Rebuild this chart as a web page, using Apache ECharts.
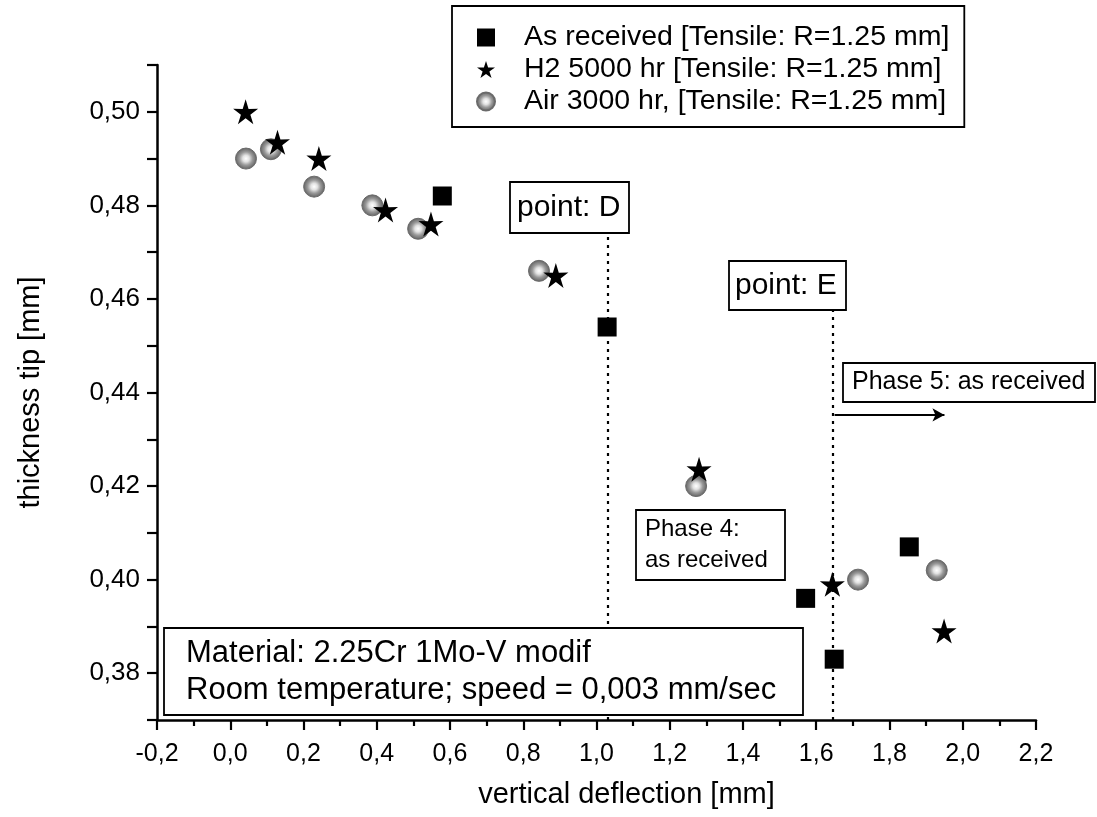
<!DOCTYPE html>
<html>
<head>
<meta charset="utf-8">
<script src="https://cdn.jsdelivr.net/npm/echarts@6/dist/echarts.min.js"></script>
<style>
  html, body { margin: 0; padding: 0; background: #fff; }
  #chart { width: 1097px; height: 817px; }
</style>
</head>
<body>
<div id="chart"></div>
<script>
// Series values: vertical deflection [mm] vs thickness tip [mm]
var asReceivedX = [0.579, 1.029, 1.571, 1.649, 1.854];
var asReceivedY = [0.482, 0.454, 0.396, 0.383, 0.407];

var h2X = [0.042, 0.129, 0.242, 0.424, 0.548, 0.889, 1.280, 1.644, 1.949];
var h2Y = [0.500, 0.4935, 0.490, 0.479, 0.476, 0.465, 0.4236, 0.399, 0.389];

var airX = [0.043, 0.111, 0.229, 0.388, 0.513, 0.843, 1.272, 1.714, 1.929];
var airY = [0.490, 0.492, 0.484, 0.480, 0.475, 0.466, 0.420, 0.400, 0.402];

var seriesNames = [
  'As received [Tensile: R=1.25 mm]',
  'H2 5000 hr [Tensile: R=1.25 mm]',
  'Air 3000 hr, [Tensile: R=1.25 mm]'
];

// Reference markers: point D, point E, and the phase 5 arrow
var pointDX = 1.032, pointDTop = 0.4741;
var pointEX = 1.645, pointETop = 0.4576;
var phase5ArrowX = [1.650, 1.950], phase5ArrowY = 0.4352;

// Axis ranges; y ticks every 0.01, labelled every 0.02
var xMin = -0.2, xMax = 2.2, xStep = 0.2;
var yMin = 0.37, yMax = 0.51, yStep = 0.01;

function zip(xs, ys) { return xs.map(function (x, i) { return [x, ys[i]]; }); }
function comma(v, d) { return v.toFixed(d).replace('.', ','); }

var FONT = 'Liberation Sans, Arial, sans-serif';
var STAR = 'path://M50,0 L61.2,35.3 L97.6,34.5 L68,56 L79.4,90.5 L50,69 L20.6,90.5 L32,56 L2.4,34.5 L38.8,35.3 Z';

var greyDot = {
  type: 'radial', x: 0.5, y: 0.5, r: 0.5,
  colorStops: [
    { offset: 0, color: '#ffffff' },
    { offset: 0.3, color: '#e2e2e2' },
    { offset: 0.6, color: '#9a9a9a' },
    { offset: 1, color: '#5e5e5e' }
  ]
};

// Framed text box drawn above the plot marks
function box(x, y, w, h, lines, fontSize, tx, lineH) {
  return {
    type: 'group', x: x, y: y, z: 100,
    children: [
      { type: 'rect', z: 100, shape: { x: 0, y: 0, width: w, height: h },
        style: { fill: '#fff', stroke: '#000', lineWidth: 1.8 } },
      { type: 'text', z: 101, x: tx, y: h / 2,
        style: { text: lines.join('\n'), font: fontSize + 'px ' + FONT, fill: '#000',
                 verticalAlign: 'middle', lineHeight: lineH || fontSize * 1.2 } }
    ]
  };
}

var chart = echarts.init(document.getElementById('chart'), null, { renderer: 'canvas' });

var axisLineStyle = { color: '#000', width: 2.5 };

chart.setOption({
  animation: false,
  backgroundColor: '#fff',
  grid: { left: 157, right: 61, top: 65, bottom: 97, containLabel: false, outerBoundsMode: 'none' },
  xAxis: {
    type: 'value', min: xMin, max: xMax, interval: xStep,
    name: 'vertical deflection [mm]', nameLocation: 'middle', nameGap: 60,
    nameTextStyle: { fontFamily: FONT, fontSize: 29, color: '#000', padding: [0, 0, 0, 60] },
    axisLine: { show: true, onZero: false, lineStyle: axisLineStyle },
    axisTick: { show: true, length: 10, lineStyle: { color: '#000', width: 2.2 } },
    minorTick: { show: true, splitNumber: 2, length: 6, lineStyle: { color: '#000', width: 2.2 } },
    splitLine: { show: false },
    axisLabel: { fontFamily: FONT, fontSize: 25, color: '#000', margin: 22,
                 formatter: function (v) { return comma(v, 1); } }
  },
  yAxis: {
    type: 'value', min: yMin, max: yMax, interval: yStep,
    name: 'thickness tip [mm]', nameLocation: 'middle', nameGap: 112,
    nameTextStyle: { fontFamily: FONT, fontSize: 29, color: '#000' },
    axisLine: { show: true, onZero: false, lineStyle: axisLineStyle },
    axisTick: { show: true, length: 10, lineStyle: { color: '#000', width: 2.2 } },
    minorTick: { show: false },
    splitLine: { show: false },
    axisLabel: { fontFamily: FONT, fontSize: 26, color: '#000', margin: 17,
                 formatter: function (v) {
                   var h = Math.round(v * 100);
                   return (h % 2 === 0 && h >= 38 && h <= 50) ? comma(v, 2) : '';
                 } }
  },
  legend: {
    orient: 'vertical', left: 452, top: 6,
    borderColor: '#000', borderWidth: 1.8,
    padding: [17, 15, 11, 24], itemGap: 3,
    itemWidth: 18, itemHeight: 18,
    textStyle: { fontFamily: FONT, fontSize: 28.5, lineHeight: 28, color: '#000', padding: [0, 0, 0, 24] },
    data: [
      { name: seriesNames[0], itemStyle: { color: '#000' } },
      { name: seriesNames[1], itemStyle: { color: '#000' } },
      { name: seriesNames[2] }
    ]
  },
  series: [
    {
      name: seriesNames[1], type: 'scatter', symbol: STAR, symbolSize: 25, z: 3,
      itemStyle: { color: '#000', opacity: 1 },
      data: zip(h2X, h2Y),
      markLine: {
        silent: true, symbol: 'none', label: { show: false },
        lineStyle: { color: '#000', type: [3, 5], width: 2.2 },
        data: [
          [{ coord: [pointDX, yMin] }, { coord: [pointDX, pointDTop] }],
          [{ coord: [pointEX, yMin] }, { coord: [pointEX, pointETop] }]
        ]
      }
    },
    {
      name: seriesNames[0], type: 'scatter', symbol: 'rect', symbolSize: 19, z: 3,
      itemStyle: { color: '#000', opacity: 1 },
      data: zip(asReceivedX, asReceivedY),
      markLine: {
        silent: true, symbol: ['none', 'arrow'], symbolSize: [10, 12], label: { show: false },
        lineStyle: { color: '#000', type: 'solid', width: 2 },
        data: [[{ coord: [phase5ArrowX[0], phase5ArrowY] }, { coord: [phase5ArrowX[1], phase5ArrowY] }]]
      }
    },
    {
      name: seriesNames[2], type: 'scatter', symbol: 'circle', symbolSize: 21, z: 2,
      itemStyle: { color: greyDot, borderColor: '#6a6a6a', borderWidth: 1, opacity: 1 },
      data: zip(airX, airY)
    }
  ],
  graphic: [
    box(510, 182, 119, 51, ['point: D'], 30, 7),
    box(729, 261, 117, 49, ['point: E'], 30, 6),
    box(843, 363, 252, 39, ['Phase 5: as received'], 25, 9),
    box(636, 510, 149, 70, ['Phase 4:', 'as received'], 24, 9, 31),
    box(164, 628, 639, 87, ['Material: 2.25Cr 1Mo-V modif', 'Room temperature; speed = 0,003 mm/sec'], 31, 22, 37)
  ]
});
</script>
</body>
</html>
